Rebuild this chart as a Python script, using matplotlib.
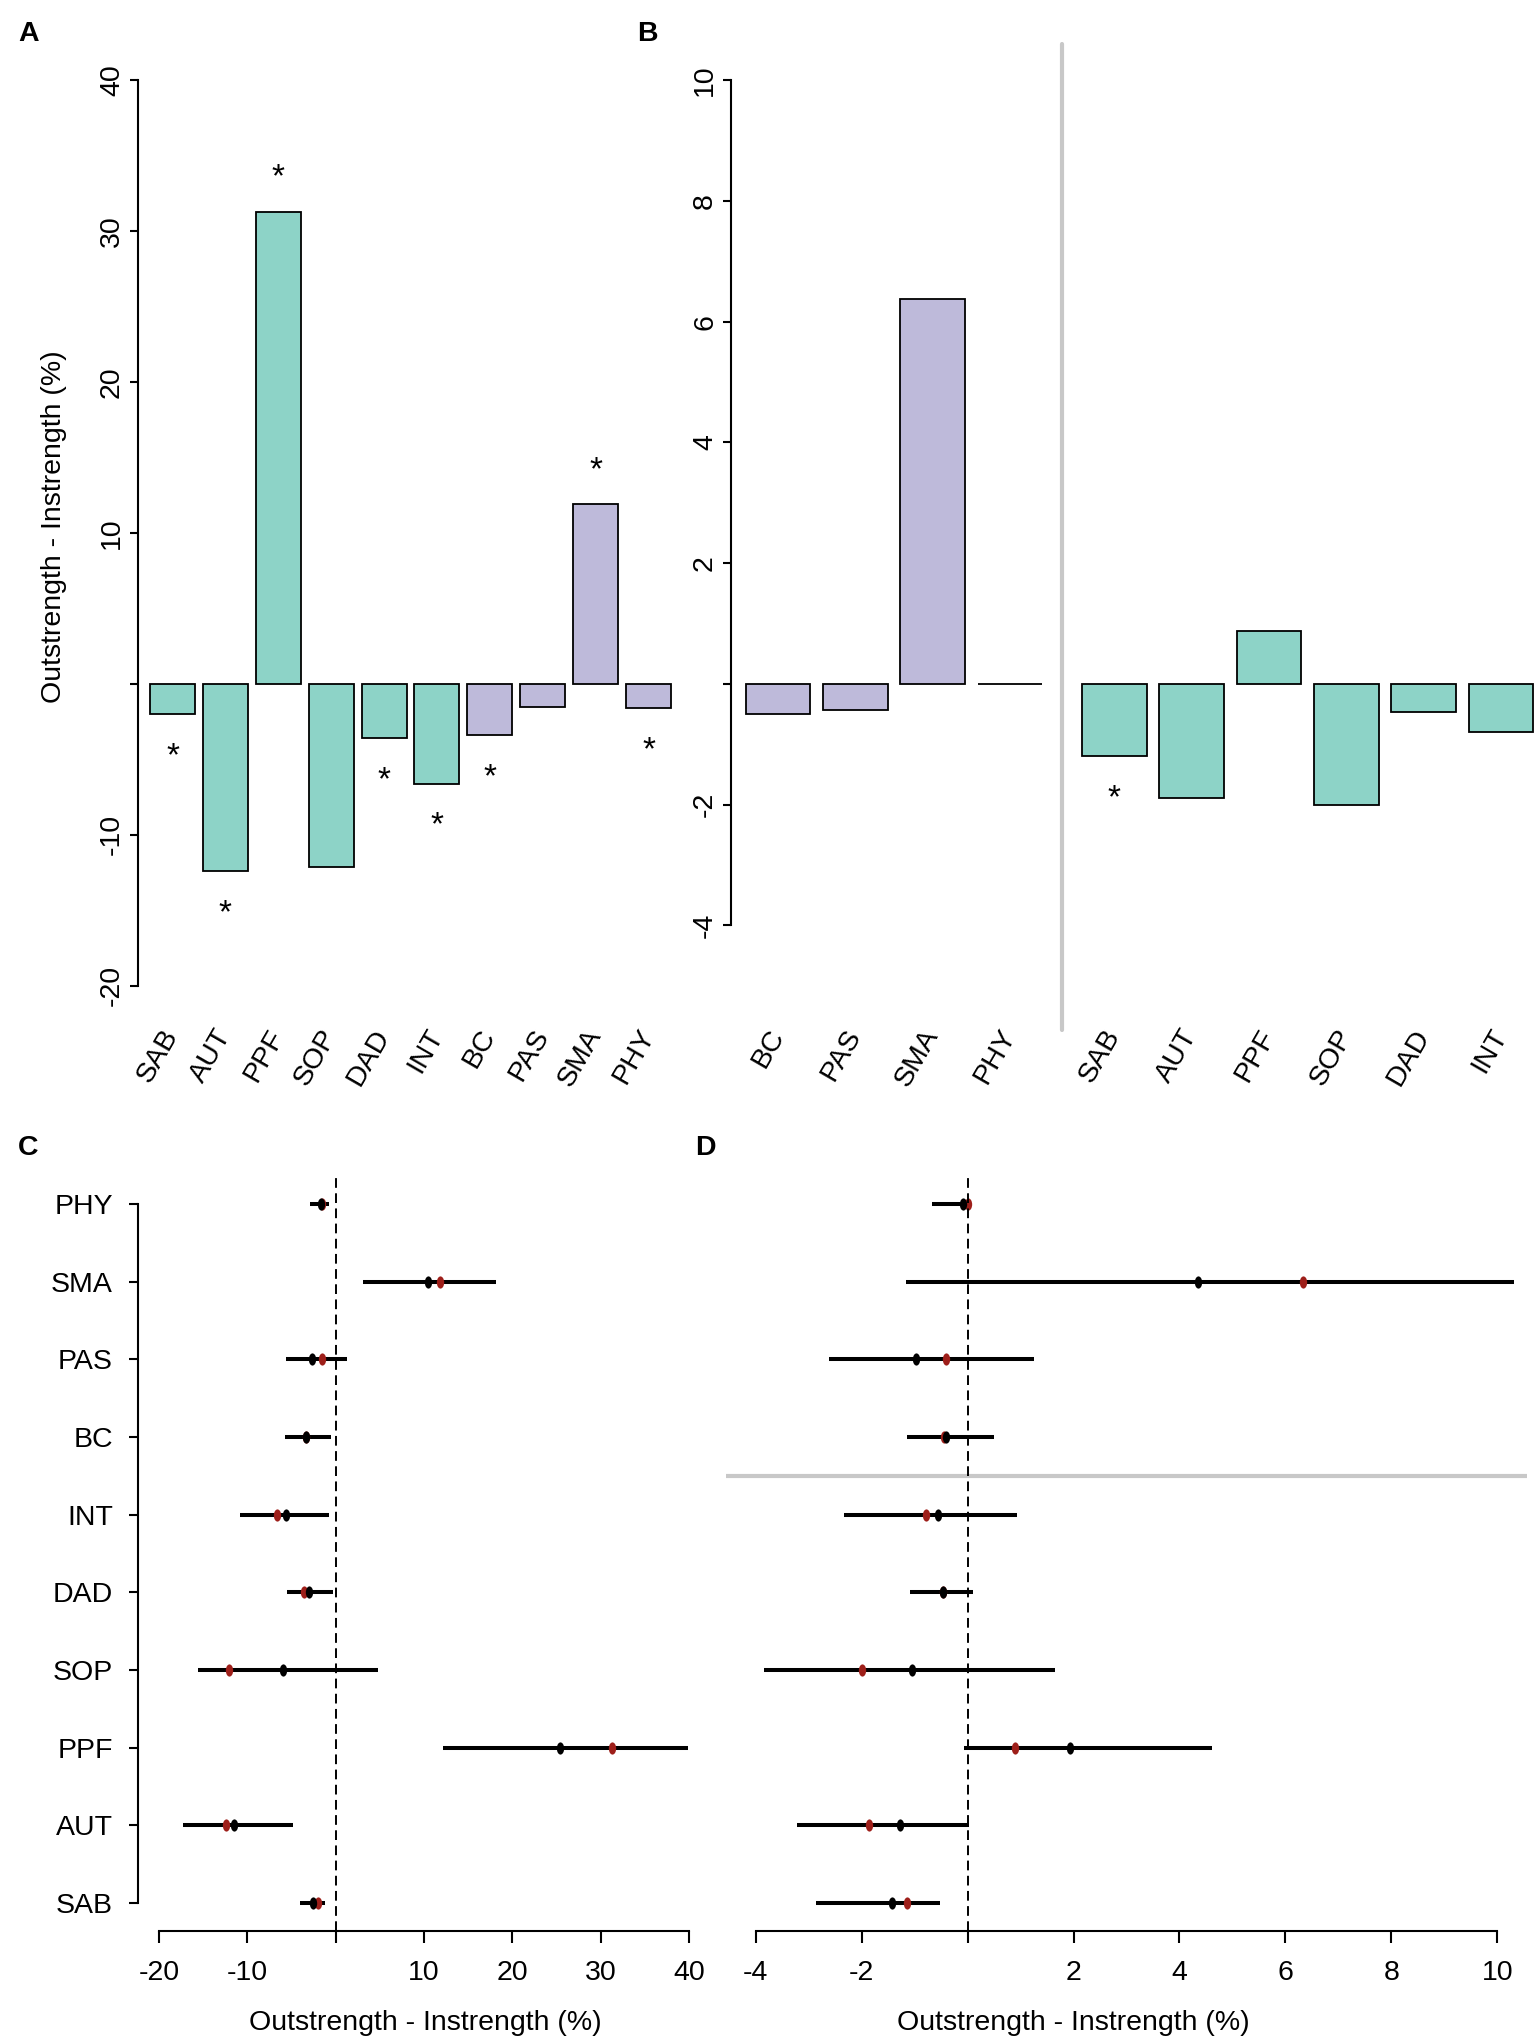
import numpy as np
import matplotlib
matplotlib.use("Agg")
import matplotlib.pyplot as plt
from matplotlib.markers import MarkerStyle
from matplotlib.transforms import Affine2D

plt.rcParams['font.family'] = ['Liberation Sans', 'DejaVu Sans']

# ---------------- data ----------------
categories = ['SAB', 'AUT', 'PPF', 'SOP', 'DAD', 'INT', 'BC', 'PAS', 'SMA', 'PHY']
category_group = ['g1', 'g1', 'g1', 'g1', 'g1', 'g1', 'g2', 'g2', 'g2', 'g2']

# Panel A: observed difference (%)
A_values = [-2.0, -12.4, 31.3, -12.1, -3.6, -6.6, -3.4, -1.5, 11.9, -1.6]
A_signif = [True, True, True, False, True, True, True, False, True, True]

# Panel B
B_left_cats = ['BC', 'PAS', 'SMA', 'PHY']
B_left_values = [-0.50, -0.44, 6.37, 0.0]
B_left_signif = [False, False, False, False]
B_right_cats = ['SAB', 'AUT', 'PPF', 'SOP', 'DAD', 'INT']
B_right_values = [-1.20, -1.89, 0.87, -2.00, -0.46, -0.79]
B_right_signif = [True, False, False, False, False, False]

# Panel C (order = categories, bottom to top)
C_observed = [-2.05, -12.4, 31.3, -12.1, -3.6, -6.7, -3.4, -1.55, 11.8, -1.6]
C_mean = [-2.55, -11.5, 25.4, -6.0, -3.07, -5.6, -3.4, -2.7, 10.4, -1.7]
C_low = [-4.05, -17.3, 12.1, -15.6, -5.56, -10.8, -5.8, -5.6, 3.1, -2.86]
C_high = [-1.2, -4.8, 39.9, 4.8, -0.26, -0.78, -0.5, 1.3, 18.2, -0.78]

# Panel D
D_observed = [-1.15, -1.86, 0.90, -1.99, -0.46, -0.79, -0.45, -0.41, 6.33, 0.0]
D_mean = [-1.42, -1.28, 1.93, -1.05, -0.46, -0.55, -0.41, -0.97, 4.35, -0.08]
D_low = [-2.86, -3.22, -0.06, -3.84, -1.09, -2.34, -1.15, -2.62, -1.17, -0.68]
D_high = [-0.52, 0.03, 4.62, 1.65, 0.10, 0.93, 0.49, 1.26, 10.31, 0.02]

A_yticks = [-20, -10, 0, 10, 20, 30, 40]
B_yticks = [-4, -2, 0, 2, 4, 6, 8, 10]
C_xticks = [-20, -10, 0, 10, 20, 30, 40]
D_xticks = [-4, -2, 0, 2, 4, 6, 8, 10]
xlabel_text = 'Outstrength - Instrength (%)'

# ---------------- style ----------------
W, H = 1535, 2043
FS = 20.5
STAR_FS = 24
TEAL = '#8DD3C7'
PURPLE = '#BEBADA'
RED = '#9E1F1A'
GRAY = '#C8C8C8'
group_color = {'g1': TEAL, 'g2': PURPLE}
cat_color = {c: group_color[g] for c, g in zip(categories, category_group)}

fig = plt.figure(figsize=(W / 100, H / 100), dpi=100)


def add_ax(l, r, t, b):
    return fig.add_axes([l / W, 1 - b / H, (r - l) / W, (b - t) / H])


def tick_labels(ticks):
    return ['' if t == 0 else str(t) for t in ticks]


def stars(ax, xs, vals, sig):
    for x, v, s in zip(xs, vals, sig):
        if s:
            off = 18.0 if v > 0 else -36.7
            ax.annotate('*', (x, v), xytext=(0, off), textcoords='offset points',
                        ha='center', va='baseline', fontsize=STAR_FS)


def bar_axes_style(ax, yticks):
    for s in ['top', 'right', 'bottom']:
        ax.spines[s].set_visible(False)
    ax.spines['left'].set_linewidth(1.5)
    ax.spines['left'].set_bounds(min(yticks), max(yticks))
    ax.set_yticks(yticks)
    ax.set_yticklabels(tick_labels(yticks), rotation=90, va='center', fontsize=FS)
    ax.tick_params(axis='y', length=5.8, width=1.5, pad=3.5)
    ax.tick_params(axis='x', length=0, pad=6.5)


def rotated_xlabels(ax, positions, labels):
    ax.set_xticks(positions)
    ax.set_xticklabels(labels, rotation=60, ha='right', va='center',
                       rotation_mode='anchor', fontsize=FS)


# ---------------- Panel A ----------------
axA = add_ax(138, 683, 44, 1022)
xA = np.arange(len(categories))
axA.bar(xA, A_values, width=0.85, color=[cat_color[c] for c in categories],
        edgecolor='black', linewidth=1.3)
axA.set_xlim(-0.652, 9.652)
axA.set_ylim(-22.4, 42.4)
bar_axes_style(axA, A_yticks)
rotated_xlabels(axA, xA, categories)
stars(axA, xA, A_values, A_signif)
fig.text(54 / W, 1 - 527 / H, xlabel_text, rotation=90, ha='center', va='center', fontsize=FS)

# ---------------- Panel B ----------------
axB = add_ax(731, 1535, 44, 1022)
gap = 0.35
xBl = np.arange(len(B_left_cats))
xBr = len(B_left_cats) + gap + np.arange(len(B_right_cats))
axB.bar(xBl, B_left_values, width=0.84, color=[cat_color[c] for c in B_left_cats],
        edgecolor='black', linewidth=1.3)
axB.bar(xBr, B_right_values, width=0.84, color=[cat_color[c] for c in B_right_cats],
        edgecolor='black', linewidth=1.3)
axB.set_xlim(-0.608, 9.79)
axB.set_ylim(-5.6, 10.6)
bar_axes_style(axB, B_yticks)
rotated_xlabels(axB, list(xBl) + list(xBr), B_left_cats + B_right_cats)
stars(axB, xBl, B_left_values, B_left_signif)
stars(axB, xBr, B_right_values, B_right_signif)
axB.axvline((xBl[-1] + xBr[0]) / 2, ymin=-8 / 978, ymax=1, color=GRAY, lw=3,
            clip_on=False, solid_capstyle='round')

# ---------------- Panels C and D ----------------
dot = MarkerStyle('o', transform=Affine2D().scale(0.6, 1.0))
rows = np.arange(1, len(categories) + 1)
# boundary between the two groups of categories
group_boundary = np.mean([rows[i] for i in range(len(categories) - 1)
                          if category_group[i] != category_group[i + 1]] +
                         [rows[i + 1] for i in range(len(categories) - 1)
                          if category_group[i] != category_group[i + 1]])


def forest(ax, obs, mean, lo, hi):
    ax.hlines(rows, lo, hi, color='black', lw=2.9, zorder=3)
    ax.plot(obs, rows, linestyle='none', marker=dot, markersize=8.8, color=RED,
            markeredgewidth=0, zorder=4)
    ax.plot(mean, rows, linestyle='none', marker=dot, markersize=8.8, color='black',
            markeredgewidth=0, zorder=5)
    ax.axvline(0, color='black', lw=1.4, linestyle=(0, (5, 2.8)), zorder=6)
    ax.set_ylim(0.64, 10.36)
    for s in ['top', 'right']:
        ax.spines[s].set_visible(False)
    ax.spines['bottom'].set_linewidth(1.5)
    ax.spines['left'].set_linewidth(1.5)
    ax.tick_params(axis='x', length=8.6, width=1.5, pad=12, labelsize=FS)


axC = add_ax(138, 710, 1176, 1931)
forest(axC, C_observed, C_mean, C_low, C_high)
axC.set_xlim(-22.4, 42.4)
axC.spines['bottom'].set_bounds(min(C_xticks), max(C_xticks))
axC.spines['left'].set_bounds(1, len(categories))
axC.set_xticks(C_xticks)
axC.set_xticklabels(tick_labels(C_xticks))
axC.set_yticks(rows)
axC.set_yticklabels(categories, fontsize=FS)
axC.tick_params(axis='y', length=6.5, width=1.5, pad=11.5)
fig.text(425 / W, 1 - 2030 / H, xlabel_text, ha='center', va='baseline', fontsize=FS)

axD = add_ax(726, 1527, 1176, 1931)
axD.axhline(group_boundary, color=GRAY, lw=3, zorder=1)
forest(axD, D_observed, D_mean, D_low, D_high)
axD.set_xlim(-4.56, 10.56)
axD.spines['bottom'].set_bounds(min(D_xticks), max(D_xticks))
axD.spines['left'].set_visible(False)
axD.set_xticks(D_xticks)
axD.set_xticklabels(tick_labels(D_xticks))
axD.set_yticks([])
fig.text(1073 / W, 1 - 2030 / H, xlabel_text, ha='center', va='baseline', fontsize=FS)

# ---------------- panel letters ----------------
for letter, (px, py) in zip('ABCD', [(18, 21), (637, 21), (18, 1135), (695, 1135)]):
    fig.text(px / W, 1 - py / H, letter, ha='left', va='top', fontsize=FS, fontweight='bold')

fig.savefig('out.png', dpi=100)
